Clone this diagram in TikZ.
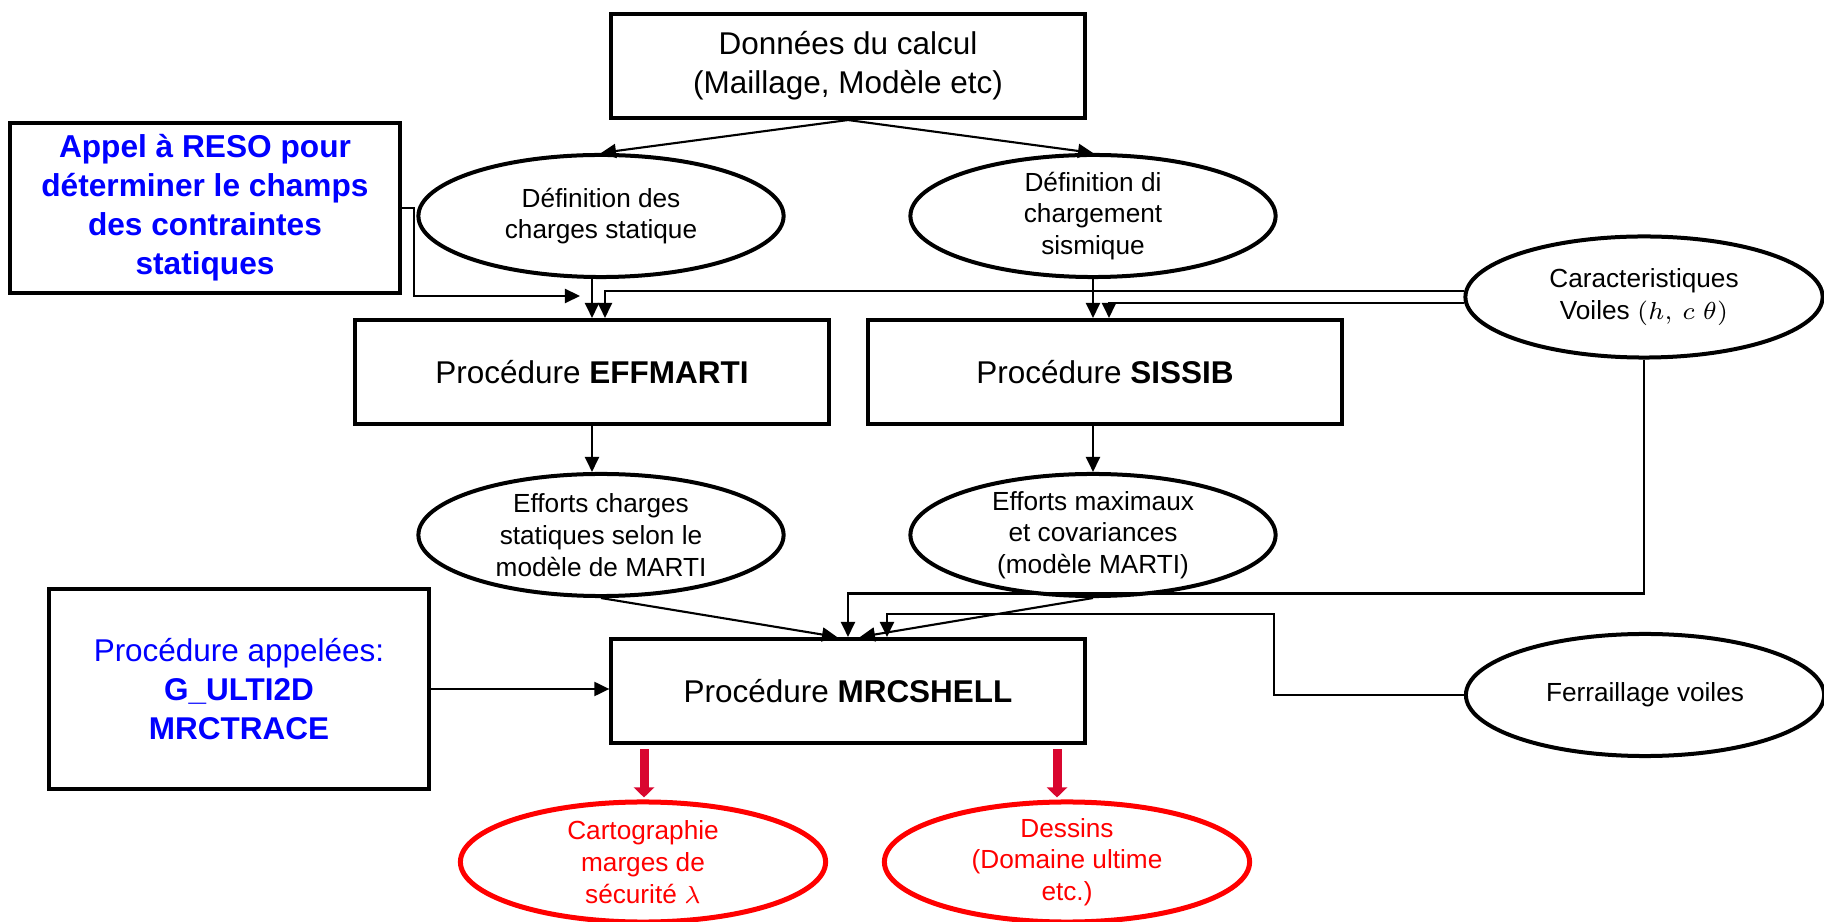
\documentclass[tikz,border=0pt]{standalone}
\usepackage{fontspec}
\setmainfont{Liberation Sans}
\usepackage{xcolor}
\usepackage{tikz}
\usetikzlibrary{shapes.geometric, arrows.meta, positioning, calc}
\definecolor{rougefleche}{HTML}{D9062F}
\definecolor{bleuappel}{HTML}{0000FF}
\definecolor{rougesortie}{HTML}{FF0000}

\begin{document}
\begin{tikzpicture}[
    x=0.01cm, y=-0.01cm,
    boite/.style={draw, line width=0.4mm, minimum width=4.73cm, minimum height=1.04cm, align=center, font=\fontsize{8.95}{11.1}\selectfont},
    bulle/.style={draw, ellipse, line width=0.4mm, minimum width=3.65cm, minimum height=1.22cm, align=center, inner xsep=0pt, inner ysep=-1mm, font=\fontsize{7.45}{9}\selectfont},
    sortie/.style={bulle, draw=rougesortie, text=rougesortie, line width=0.5mm, minimum height=1.2cm},
    arr/.style={-{Triangle[length=1.5mm, width=1.4mm]}, line width=0.6pt},
    rouge/.style={-{Triangle[length=1mm, width=2mm]}, line width=0.9mm, draw=rougefleche}
  ]
    \useasboundingbox (0,0) rectangle (1824,922);
    \node[boite] (donnees) at (848,66) {Données du calcul\\(Maillage, Modèle etc)};
    \node[boite, minimum width=3.9cm, minimum height=1.63cm, text=bleuappel, font=\fontsize{9}{11.1}\selectfont\bfseries] (reso) at (205,208) {Appel à RESO pour\\déterminer le champs\\des contraintes\\statiques};
    \node[bulle] (defstat) at (601,216) {Définition des\\charges statique};
    \node[bulle] (defsism) at (1093,216) {Définition di\\chargement\\sismique};
    \node[bulle, minimum width=3.57cm, minimum height=1.21cm] (carac) at (1644,297) {Caracteristiques\\Voiles $(h,\,c\;\theta)$};
    \node[boite] (effmarti) at (592,372) {Procédure \textbf{EFFMARTI}};
    \node[boite] (sissib) at (1105,372) {Procédure \textbf{SISSIB}};
    \node[bulle] (effstat) at (601,535) {Efforts charges\\statiques selon le\\modèle de MARTI};
    \node[bulle] (effmax) at (1093,535) {Efforts maximaux\\et covariances\\(modèle MARTI)};
    \node[boite, minimum width=3.8cm, minimum height=2cm, text=bleuappel] (appel) at (239,689) {Procédure appelées:\\\textbf{G\_ULTI2D}\\\textbf{MRCTRACE}};
    \node[boite] (mrcshell) at (848,691) {Procédure \textbf{MRCSHELL}};
    \node[bulle, minimum width=3.58cm] (ferr) at (1645,695) {Ferraillage voiles};
    \node[sortie] (carto) at (643,862) {Cartographie\\marges de\\sécurité $\lambda$};
    \node[sortie] (dessins) at (1067,862) {Dessins\\(Domaine ultime\\etc.)};
    \coordinate (resoin) at (580,296);
    \coordinate (bendf) at (1274,614);
    \draw[arr] (donnees.south) -- (defstat.north);
    \draw[arr] (donnees.south) -- (defsism.north);
    \draw[arr] (defstat.south -| effmarti.north) -- (effmarti.north);
    \draw[arr] (reso.east) -- ++(12,0) |- (resoin);
    \draw[arr] (carac.178) -| ($(effmarti.north)+(13,0)$);
    \draw[arr] (carac.182) -| ($(sissib.north)+(4,0)$);
    \draw[arr] (defsism.south) -- (defsism.south |- sissib.north);
    \draw[arr] (effmarti.south) -- (effmarti.south |- effstat.north);
    \draw[arr] (sissib.south -| effmax.north) -- (effmax.north);
    \draw[arr] (carac.south) -- ++(0,234) -| (mrcshell.north);
    \draw[arr] (ferr.west) -| (bendf) -| ($(mrcshell.north)+(39,0)$);
    \draw[arr] (effstat.south) -- ($(mrcshell.north)+(-11,0)$);
    \draw[arr] (effmax.south) -- ($(mrcshell.north)+(12,0)$);
    \draw[arr] (appel.east) -- (appel.east -| mrcshell.west);
    \draw[rouge] ($(carto.north |- mrcshell.south)+(1,4)$) -- ($(carto.north)+(1,-2)$);
    \draw[rouge] ($(dessins.north |- mrcshell.south)+(-10,4)$) -- ($(dessins.north)+(-10,-2)$);
  \end{tikzpicture}
\end{document}
